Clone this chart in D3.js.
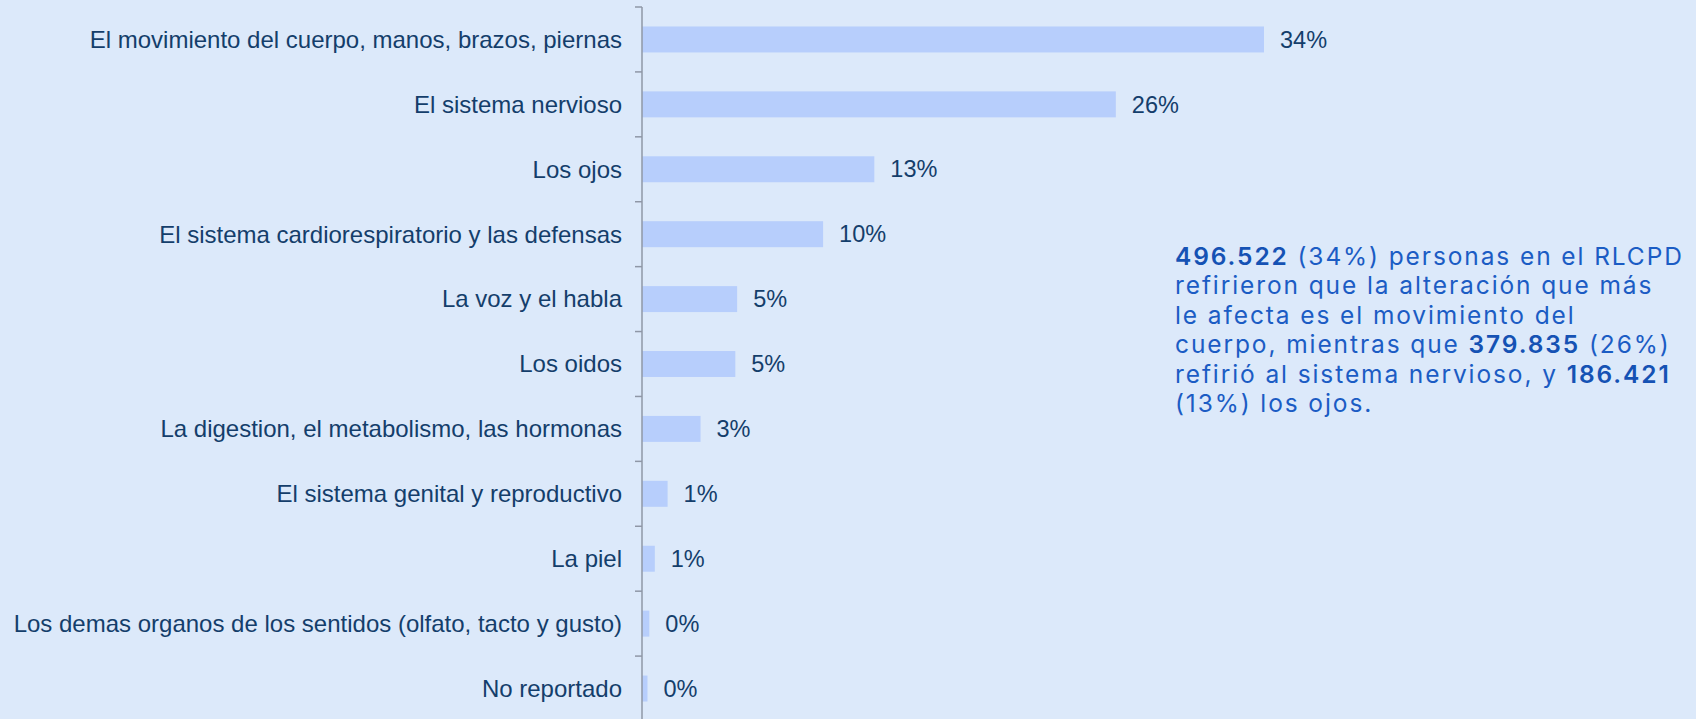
<!DOCTYPE html>
<html>
<head>
<meta charset="utf-8">
<script src="https://cdn.jsdelivr.net/npm/d3@7"></script>
<style>
  html, body { margin: 0; padding: 0; background: #dce9fa; }
  svg { display: block; }
</style>
</head>
<body>
<svg id="chart" width="1696" height="719"></svg>
<script>
// data
const categories = [
  "El movimiento del cuerpo, manos, brazos, piernas",
  "El sistema nervioso",
  "Los ojos",
  "El sistema cardiorespiratorio y las defensas",
  "La voz y el habla",
  "Los oidos",
  "La digestion, el metabolismo, las hormonas",
  "El sistema genital y reproductivo",
  "La piel",
  "Los demas organos de los sentidos (olfato, tacto y gusto)",
  "No reportado"
];
const values = [34.0, 25.9, 12.7, 9.9, 5.2, 5.1, 3.2, 1.4, 0.7, 0.4, 0.3];
const labels = ["34%", "26%", "13%", "10%", "5%", "5%", "3%", "1%", "1%", "0%", "0%"];

const noteLines = [
  [["496.522", true], [" (34%) personas en el RLCPD", false]],
  [["refirieron que la alteración que más", false]],
  [["le afecta es el movimiento del", false]],
  [["cuerpo, mientras que ", false], ["379.835", true], [" (26%)", false]],
  [["refirió al sistema nervioso, y ", false], ["186.421", true]],
  [["(13%) los ojos.", false]]
];

const svg = d3.select("#chart");
const margin = { top: 7, left: 642 };
const plotH = 714;

const y = d3.scaleBand()
  .domain(categories)
  .range([margin.top, margin.top + plotH])
  .paddingInner(0.6)
  .paddingOuter(0.3);

const x = d3.scaleLinear()
  .domain([0, 34])
  .range([margin.left, 1264]);

// bars
svg.append("g").selectAll("rect")
  .data(categories).enter().append("rect")
    .attr("x", x(0))
    .attr("y", d => y(d))
    .attr("width", (d, i) => x(values[i]) - x(0))
    .attr("height", y.bandwidth())
    .attr("fill", "#b7cefc");

// value labels
svg.append("g").selectAll("text")
  .data(categories).enter().append("text")
    .attr("x", (d, i) => x(values[i]) + 16)
    .attr("y", d => y(d) + y.bandwidth() / 2)
    .attr("dy", "0.35em")
    .attr("font-family", "Liberation Sans, Arial, sans-serif")
    .attr("font-size", "23.5px")
    .attr("fill", "#143e6b")
    .text((d, i) => labels[i]);

// axis, ticks sit between categories
const axisG = svg.append("g");
axisG.append("line")
  .attr("x1", margin.left).attr("x2", margin.left)
  .attr("y1", margin.top).attr("y2", margin.top + plotH)
  .attr("stroke", "#8f97a6").attr("stroke-width", 1.5);

const tickYs = d3.range(categories.length + 1).map(i => margin.top + i * (plotH / categories.length));
axisG.selectAll("line.tick")
  .data(tickYs).enter().append("line")
    .attr("class", "tick")
    .attr("x1", margin.left - 7).attr("x2", margin.left)
    .attr("y1", d => d).attr("y2", d => d)
    .attr("stroke", "#8f97a6").attr("stroke-width", 1.5);

// category labels
svg.append("g").selectAll("text")
  .data(categories).enter().append("text")
    .attr("x", margin.left - 20)
    .attr("y", d => y(d) + y.bandwidth() / 2)
    .attr("dy", "0.35em")
    .attr("text-anchor", "end")
    .attr("font-family", "Liberation Sans, Arial, sans-serif")
    .attr("font-size", "24px")
    .attr("fill", "#143e6b")
    .text(d => d);

// annotation
const note = svg.append("text")
  .attr("font-family", "Inter, sans-serif")
  .attr("font-size", "24.5px")
  .attr("letter-spacing", "1.9px")
  .attr("fill", "#1b5cc4");

noteLines.forEach((line, i) => {
  const t = note.append("tspan")
    .attr("x", 1175)
    .attr("y", 265 + i * 29.4);
  line.forEach(([str, bold], j) => {
    (j === 0 ? t : note.append("tspan"))
      .attr("font-weight", bold ? 600 : 400)
      .attr("fill", bold ? "#1552b4" : "#1b5cc4")
      .text(str);
  });
});
</script>
</body>
</html>
